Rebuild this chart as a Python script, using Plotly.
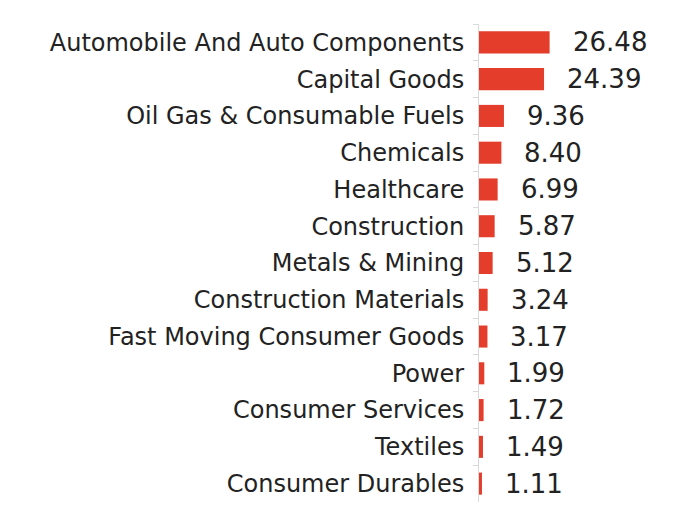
import plotly.graph_objects as go

sectors = [
    "Automobile And Auto Components",
    "Capital Goods",
    "Oil Gas & Consumable Fuels",
    "Chemicals",
    "Healthcare",
    "Construction",
    "Metals & Mining",
    "Construction Materials",
    "Fast Moving Consumer Goods",
    "Power",
    "Consumer Services",
    "Textiles",
    "Consumer Durables",
]
weights = [26.48, 24.39, 9.36, 8.40, 6.99, 5.87, 5.12, 3.24, 3.17, 1.99, 1.72, 1.49, 1.11]
value_labels = [f"{v:.2f}" for v in weights]

BAR_COLOR = "#E43D2B"
TEXT_COLOR = "#222222"
FONT = "DejaVu Sans"

fig = go.Figure()
fig.add_trace(go.Bar(
    x=weights,
    y=sectors,
    orientation="h",
    marker=dict(color=BAR_COLOR, line=dict(width=0)),
    width=0.6,
    hoverinfo="skip",
))

for s, v, lab in zip(sectors, weights, value_labels):
    fig.add_annotation(
        x=v, y=s, text=lab, showarrow=False,
        xanchor="left", yanchor="middle", xshift=21,
        font=dict(family=FONT, size=26, color=TEXT_COLOR),
    )

fig.update_layout(
    width=674, height=521,
    margin=dict(l=471, r=3, t=16, b=27, autoexpand=False),
    paper_bgcolor="white",
    plot_bgcolor="white",
    showlegend=False,
    bargap=0.4,
)
fig.update_xaxes(visible=False, range=[0, 75], fixedrange=True, automargin=False)
fig.update_yaxes(
    categoryorder="array",
    categoryarray=sectors,
    autorange="reversed",
    automargin=False,
    showline=True,
    linecolor="#d9d9d9",
    linewidth=1,
    ticks="outside",
    tickson="boundaries",
    ticklen=5,
    tickcolor="#d9d9d9",
    ticklabelstandoff=9,
    showgrid=False,
    tickfont=dict(family=FONT, size=24, color=TEXT_COLOR),
    fixedrange=True,
)

fig.write_html("out.html")
